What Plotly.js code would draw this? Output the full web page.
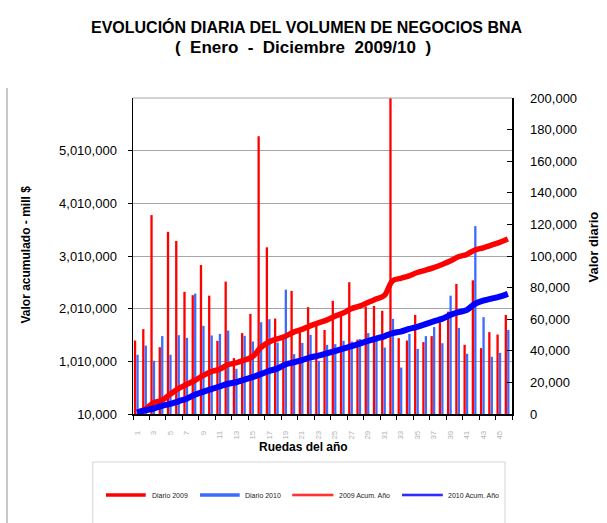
<!DOCTYPE html>
<html><head><meta charset="utf-8">
<script src="https://cdn.plot.ly/plotly-3.0.1.min.js"></script>
<style>html,body{margin:0;padding:0;background:#fff}</style>
</head><body><div id="chart" style="width:607px;height:523px"></div>
<script>
const ruedas = [1,2,3,4,5,6,7,8,9,10,11,12,13,14,15,16,17,18,19,20,21,22,23,24,25,26,27,28,29,30,31,32,33,34,35,36,37,38,39,40,41,42,43,44,45,46];
const xTickVals = [1,3,5,7,9,11,13,15,17,19,21,23,25,27,29,31,33,35,37,39,41,43,45];
const xTickText = ['1','3','5','7','9','11','13','15','17','19','21','23','25','27','29','31','33','35','37','39','41','43','45'];
const diario2009 = [46500,53700,125900,42300,115300,109500,77300,75200,94300,74900,46300,83800,35400,51200,63400,175800,105500,60400,50000,77900,51800,67600,56000,53200,71600,62100,83400,47100,68000,68400,65300,280000,48000,46500,62700,45500,49300,57900,64800,82300,43800,84600,41700,51800,50300,62700];
const diario2010 = [37500,43300,33700,49300,37500,49900,48200,76200,55800,49700,50700,52800,28600,49500,45900,58100,60000,45200,78700,37900,45000,50100,33700,43800,44200,46300,45900,47400,51200,46500,42100,60200,29400,50700,41200,49300,55000,44800,74900,54500,38100,118900,61300,36200,38700,53200];
const acum2009 = [46500,100200,226100,268400,383700,493200,570500,645700,740000,814900,861200,945000,980400,1031600,1095000,1270800,1376300,1436700,1486700,1564600,1616400,1684000,1740000,1793200,1864800,1926900,2010300,2057400,2125400,2193800,2259100,2539100,2587100,2633600,2696300,2741800,2791100,2849000,2913800,2996100,3039900,3124500,3166200,3218000,3268300,3331000];
const acum2010 = [37500,80800,114500,163800,201300,251200,299400,375600,431400,481100,531800,584600,613200,662700,708600,766700,826700,871900,950600,988500,1033500,1083600,1117300,1161100,1205300,1251600,1297500,1344900,1396100,1442600,1484700,1544900,1574300,1625000,1666200,1715500,1770500,1815300,1890200,1944700,1982800,2101700,2163000,2199200,2237900,2291100];
const leftTickVals = [10000,1010000,2010000,3010000,4010000,5010000];
const leftTickText = ['10,000','1,010,000','2,010,000','3,010,000','4,010,000','5,010,000'];
const rightTickVals = [0,20000,40000,60000,80000,100000,120000,140000,160000,180000,200000];
const rightTickText = ['0','20,000','40,000','60,000','80,000','100,000','120,000','140,000','160,000','180,000','200,000'];
const seriesNames = ['Diario 2009','Diario 2010','2009 Acum. Año','2010 Acum. Año'];

const FONT = 'Liberation Sans, Arial, sans-serif';
const RED = '#FF0000', BLUEBAR = '#3B6BFF', BLUE = '#0000FF';
const L = 133, R = 512, T = 98, B = 414;
const px = x => (x - L) / (R - L);
const py = y => (B - y) / (B - T);

const traces = [
  {type:'bar', x:ruedas, y:diario2009, name:seriesNames[0], yaxis:'y', marker:{color:RED, line:{width:0}}, width:0.28, offset:-0.39},
  {type:'bar', x:ruedas, y:diario2010, name:seriesNames[1], yaxis:'y', marker:{color:BLUEBAR, line:{width:0}}, width:0.28, offset:-0.09},
  {type:'scatter', mode:'lines', x:ruedas, y:acum2009, name:seriesNames[2], yaxis:'y2', line:{color:RED, width:5.5, shape:'spline', smoothing:1}},
  {type:'scatter', mode:'lines', x:ruedas, y:acum2010, name:seriesNames[3], yaxis:'y2', line:{color:BLUE, width:6, shape:'spline', smoothing:1}}
];

const minorVals = Array.from({length:24}, (_, i) => 0.5 + 2*i);

const shapes = [
  {type:'line', xref:'paper', yref:'paper', x0:0, x1:1, y0:1, y1:1, line:{color:'#A6A6A6', width:1}},
  {type:'line', xref:'paper', yref:'paper', x0:px(7), x1:px(7), y0:py(88), y1:py(530), line:{color:'#C8C8C8', width:2}},
  {type:'rect', xref:'paper', yref:'paper', x0:px(92.7), x1:px(505), y0:py(462), y1:py(540), line:{color:'#D4D4D4', width:1}},
  {type:'line', xref:'paper', yref:'paper', x0:px(106), x1:px(145.7), y0:py(495), y1:py(495), line:{color:RED, width:3.5}},
  {type:'line', xref:'paper', yref:'paper', x0:px(200), x1:px(239.7), y0:py(495), y1:py(495), line:{color:BLUEBAR, width:3.5}},
  {type:'line', xref:'paper', yref:'paper', x0:px(292.3), x1:px(333.3), y0:py(495), y1:py(495), line:{color:RED, width:2.5}},
  {type:'line', xref:'paper', yref:'paper', x0:px(292.3), x1:px(333.3), y0:py(495), y1:py(495), line:{color:'#FF9090', width:0.7}},
  {type:'line', xref:'paper', yref:'paper', x0:px(402), x1:px(442.7), y0:py(495), y1:py(495), line:{color:BLUE, width:2.5}},
  {type:'line', xref:'paper', yref:'paper', x0:px(402), x1:px(442.7), y0:py(495), y1:py(495), line:{color:'#8080FF', width:0.7}}
];

const legX = [150, 243.3, 336.7, 446];
const annotations = [
  {xref:'paper', yref:'paper', x:px(306.5), y:py(27), xanchor:'center', yanchor:'middle', showarrow:false, text:'<b>EVOLUCIÓN DIARIA DEL VOLUMEN DE NEGOCIOS BNA</b>', font:{family:FONT, size:16, color:'#000'}},
  {xref:'paper', yref:'paper', x:px(303), y:py(47), xanchor:'center', yanchor:'middle', showarrow:false, text:'<b>(&nbsp; Enero&nbsp; -&nbsp; Diciembre&nbsp; 2009/10&nbsp; )</b>', font:{family:FONT, size:17, color:'#000'}},
  {xref:'paper', yref:'paper', x:px(25), y:py(254.5), xanchor:'center', yanchor:'middle', showarrow:false, textangle:-90, text:'<b>Valor acumulado - mill $</b>', font:{family:FONT, size:12, color:'#000'}},
  {xref:'paper', yref:'paper', x:px(593), y:py(247.5), xanchor:'center', yanchor:'middle', showarrow:false, textangle:-90, text:'<b>Valor diario</b>', font:{family:FONT, size:13, color:'#000'}},
  {xref:'paper', yref:'paper', x:px(303), y:py(447), xanchor:'center', yanchor:'middle', showarrow:false, text:'<b>Ruedas del año</b>', font:{family:FONT, size:12, color:'#000'}}
].concat(seriesNames.map((n, i) => ({xref:'paper', yref:'paper', x:px(legX[i]), y:py(495), xanchor:'left', yanchor:'middle', showarrow:false, text:n, font:{family:FONT, size:7, color:'#222'}})));

const layout = {
  width:607, height:523,
  margin:{l:L, r:607-R, t:T, b:523-B, pad:0},
  paper_bgcolor:'#fff', plot_bgcolor:'#fff',
  showlegend:false,
  font:{family:FONT, color:'#000'},
  barmode:'group',
  xaxis:{range:[0.5,46.5], tickmode:'array', tickvals:xTickVals, ticktext:xTickText, tickangle:-90,
    tickfont:{family:FONT, size:8, color:'#B4B4B4'}, ticks:'', showline:true, linecolor:'#000', linewidth:1.5,
    showgrid:false, zeroline:false, ticklabelstandoff:12, fixedrange:true,
    minor:{tickmode:'array', tickvals:minorVals, ticks:'outside', ticklen:4, tickcolor:'#000', tickwidth:1, showgrid:false}},
  yaxis:{range:[0,200000], side:'right', tickmode:'array', tickvals:rightTickVals, ticktext:rightTickText,
    ticks:'inside', ticklen:5, tickcolor:'#000', showline:true, linecolor:'#000', linewidth:1.5,
    showgrid:false, zeroline:false, tickfont:{family:FONT, size:13, color:'#000'}, ticklabelstandoff:14},
  yaxis2:{range:[10000,6010000], side:'left', overlaying:'y', tickmode:'array', tickvals:leftTickVals, ticktext:leftTickText,
    ticks:'outside', ticklen:4, tickcolor:'#000', showline:true, linecolor:'#000', linewidth:1.5,
    showgrid:true, gridcolor:'#A6A6A6', gridwidth:1, zeroline:false, tickfont:{family:FONT, size:13, color:'#000'}, ticklabelstandoff:8},
  shapes:shapes,
  annotations:annotations
};

Plotly.newPlot('chart', traces, layout, {displayModeBar:false, staticPlot:true});
</script>
</body></html>
